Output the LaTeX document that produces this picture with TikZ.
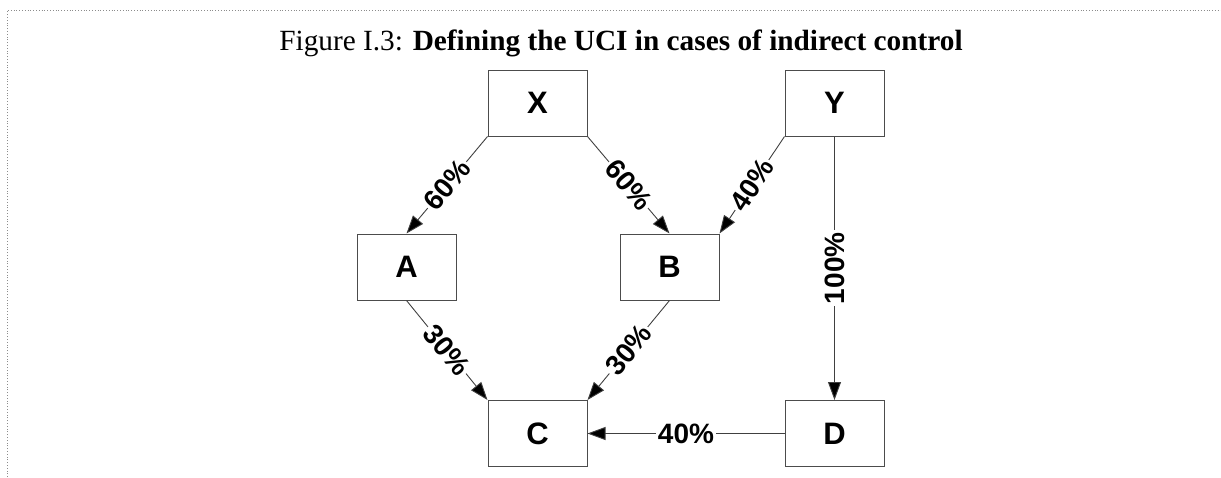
\documentclass[tikz,border=0pt]{standalone}
\usepackage{fontspec}
\setmainfont{Liberation Serif}
\newfontfamily\arialfont{Liberation Sans}
\usetikzlibrary{shapes,arrows,arrows.meta,positioning}
\tikzset{
	block/.style = {draw=black!70, line width=1pt, fill=white, rectangle, minimum height=66pt, minimum width=99pt,
		font=\arialfont\bfseries\fontsize{31}{31}\selectfont},
	%,
	share/.style = {fill=white, inner sep=2pt, midway, anchor=center, font=\arialfont\bfseries\fontsize{28}{28}\selectfont},
	link/.style = {draw=black!75, line width=0.9pt, -{Triangle[length=18pt,width=13pt,fill=black]}},
	frame/.style = {draw=black!45, line width=0.8pt, dotted}
}

\begin{document}
\begin{tikzpicture}[node distance=2cm, on grid]
    \useasboundingbox (0,0) rectangle (1221pt,-477pt);
    \draw [frame] (7pt,-477pt) -- (7pt,-10.5pt) -- (1221pt,-10.5pt);
    % Caption above the chart
    \node (caption) at (621pt,-43pt) {\fontsize{29.3}{30}\selectfont Figure I.3: \textbf{Defining the UCI in cases of indirect control}};
    % We start by placing the companies
    \node [block] (X) at (537.5pt,-103pt) {X};
    \node [block, right=297pt of X] (Y) {Y};
    \node [block, below left=164pt and 131pt of X] (A) {A};
    \node [block, below right=164pt and 132pt of X] (B) {B};
    \node [block, below=330.5pt of X] (C) {C};
    \node [block, below=330.5pt of Y] (D) {D};

    % Then the holdings between them
    \draw [link] (X.south west) -- node [share, sloped] {60\%} (A.north);
    \draw [link] (X.south east) -- node [share, sloped] {60\%} (B.north);
    \draw [link] (Y.south west) -- node [share, sloped] {40\%} (B.north east);
    \draw [link] (Y.south) -- node [share, rotate=90] {100\%} (D.north);
    \draw [link] (A.south) -- node [share, sloped] {30\%} (C.north west);
    \draw [link] (B.south) -- node [share, sloped] {30\%} (C.north east);
    \draw [link] (D.west) -- node [share] {40\%} (C.east);
\end{tikzpicture}
\end{document}
